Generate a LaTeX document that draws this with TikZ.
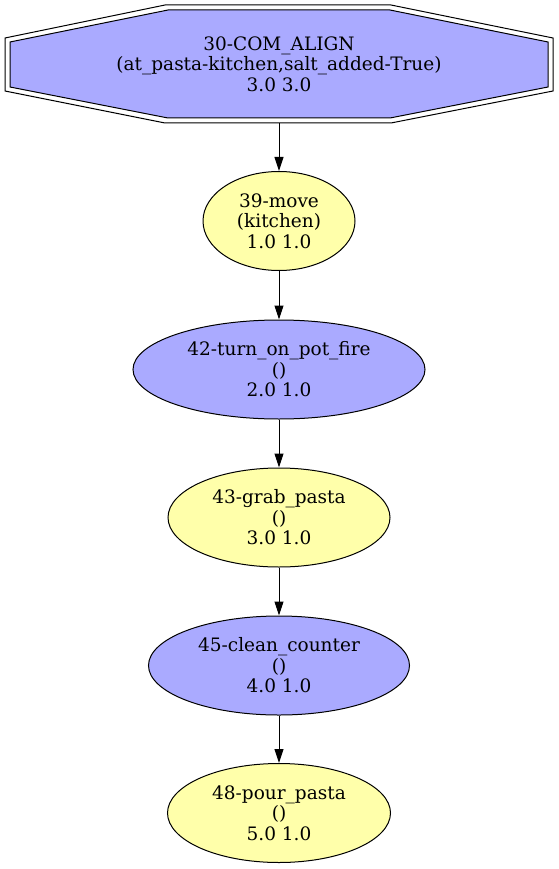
\documentclass[tikz,border=0pt]{standalone}
\usepackage{fontspec}
\setmainfont{DejaVu Serif}
\usetikzlibrary{shapes.geometric,arrows.meta}
\definecolor{planblue}{HTML}{AAAAFF}
\definecolor{planyellow}{HTML}{FFFFAA}
\begin{document}
\begin{tikzpicture}[x=1pt, y=-1pt,
    every node/.style={font=\fontsize{18.5}{20.5}\selectfont, align=center, inner sep=0pt},
    act/.style={ellipse, draw, line width=1pt, minimum height=99pt},
    yellowact/.style={act, fill=planyellow},
    blueact/.style={act, fill=planblue},
    edge/.style={line width=1pt, -{Triangle[length=14pt, width=9pt]}}]
    \useasboundingbox (0, 0) rectangle (558, 869);
    % double octagon of the goal
    \draw[line width=1pt] (165, 5) -- (391, 5) -- (553, 38) -- (553, 91) -- (391, 123) -- (165, 123) -- (5, 91) -- (5, 38) -- cycle;
    \draw[line width=1pt, fill=planblue] (168, 10) -- (390, 10) -- (548, 42) -- (548, 87) -- (390, 118) -- (168, 118) -- (10, 87) -- (10, 42) -- cycle;
    \node[minimum width=548pt, minimum height=118pt] (30) at (279, 64) {30-COM\_ALIGN\\(at\_pasta-kitchen,salt\_added-True)\\3.0 3.0};
    \node[yellowact, minimum width=152pt] (39) at (279, 221) {39-move\\(kitchen)\\1.0 1.0};
    \node[blueact, minimum width=292pt] (42) at (279, 369.5) {42-turn\_on\_pot\_fire\\()\\2.0 1.0};
    \node[yellowact, minimum width=222pt] (43) at (279, 517.5) {43-grab\_pasta\\()\\3.0 1.0};
    \node[blueact, minimum width=261pt] (45) at (279, 665.5) {45-clean\_counter\\()\\4.0 1.0};
    \node[yellowact, minimum width=223pt] (48) at (279, 813) {48-pour\_pasta\\()\\5.0 1.0};
    \draw[edge] (30) -- (39);
    \draw[edge] (39) -- (42);
    \draw[edge] (42) -- (43);
    \draw[edge] (43) -- (45);
    \draw[edge] (45) -- (48);
\end{tikzpicture}
\end{document}
